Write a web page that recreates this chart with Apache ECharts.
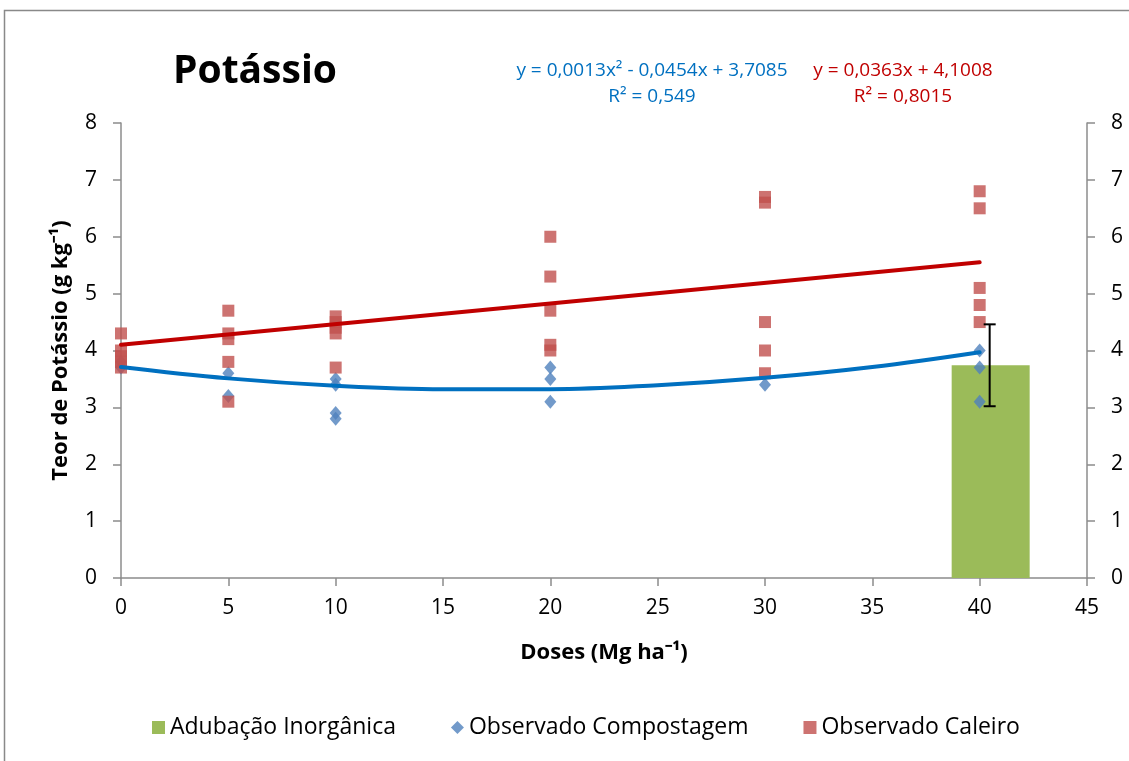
<!DOCTYPE html>
<html>
<head>
<meta charset="utf-8">
<script src="https://cdn.jsdelivr.net/npm/echarts@6/dist/echarts.min.js"></script>
<style>
  html, body { margin: 0; padding: 0; background: #fff; }
  #main { width: 1129px; height: 761px; }
</style>
</head>
<body>
<div id="main"></div>
<script>
var doses = [0, 5, 10, 20, 30, 40];
var compostagem = [
    [3.7, 3.8],
    [3.6, 3.2],
    [3.5, 3.4, 2.9, 2.8],
    [3.7, 3.5, 3.1],
    [3.4],
    [4.0, 3.7, 3.1]
];
var caleiro = [
    [4.3, 4.0, 3.9, 3.8, 3.7],
    [4.7, 4.3, 4.2, 3.8, 3.1],
    [4.6, 4.5, 4.4, 4.3, 3.7],
    [6.0, 5.3, 4.7, 4.1, 4.0],
    [6.7, 6.6, 4.5, 4.0, 3.6],
    [6.8, 6.5, 5.1, 4.8, 4.5]
];
// inorganic fertilisation bar with its error bar
var inorgDose = 40;
var inorgValue = 3.74;
var inorgErr = [3.02, 4.46];
// trend lines as drawn in the chart
var trendCompX = [0, 5, 10, 15, 20, 25, 30, 35, 40];
var trendCompY = [3.71, 3.51, 3.38, 3.32, 3.32, 3.39, 3.52, 3.71, 3.97];
var trendCalX = [0, 40];
var trendCalY = [4.10, 5.55];
var xTicks = [0, 45, 5];
var yTicks = [0, 8, 1];

function pairs(xs, groups) {
    var out = [];
    for (var i = 0; i < xs.length; i++) {
        for (var j = 0; j < groups[i].length; j++) {
            out.push([xs[i], groups[i][j]]);
        }
    }
    return out;
}
function zip(xs, ys) {
    var out = [];
    for (var i = 0; i < xs.length; i++) out.push([xs[i], ys[i]]);
    return out;
}

var FONT = 'Open Sans';
var AXIS = '#8c8c8c';
var EQ_FONT = '19px "Open Sans"';

var dom = document.getElementById('main');
var myChart = echarts.init(dom);
var option = {
    backgroundColor: '#fff',
    textStyle: { fontFamily: FONT },
    animation: false,
    title: {
        text: 'Potássio',
        left: 168,
        top: 47,
        textStyle: { fontFamily: FONT, fontSize: 39, fontWeight: 'bold', color: '#000' }
    },
    grid: { left: 121, right: 42, top: 123, bottom: 183 },
    legend: {
        top: 711,
        left: 147,
        itemGap: 55,
        itemWidth: 13,
        itemHeight: 13,
        textStyle: { fontFamily: FONT, fontSize: 23, color: '#000' },
        data: [
            { name: 'Adubação Inorgânica', icon: 'rect' },
            { name: 'Observado Compostagem', icon: 'diamond' },
            { name: 'Observado Caleiro', icon: 'rect' }
        ]
    },
    graphic: [
        { type: 'rect', silent: true, z: -10,
          shape: { x: 4.5, y: 10.5, width: 1200, height: 900 },
          style: { fill: 'none', stroke: '#898989', lineWidth: 1.5 } },
        { type: 'text', x: 652, y: 71,
          style: { text: 'y = 0,0013x² - 0,0454x + 3,7085', fill: '#0070C0', font: EQ_FONT, textAlign: 'center', textVerticalAlign: 'middle' } },
        { type: 'text', x: 652, y: 97,
          style: { text: 'R² = 0,549', fill: '#0070C0', font: EQ_FONT, textAlign: 'center', textVerticalAlign: 'middle' } },
        { type: 'text', x: 903, y: 71,
          style: { text: 'y = 0,0363x + 4,1008', fill: '#C00000', font: EQ_FONT, textAlign: 'center', textVerticalAlign: 'middle' } },
        { type: 'text', x: 903, y: 97,
          style: { text: 'R² = 0,8015', fill: '#C00000', font: EQ_FONT, textAlign: 'center', textVerticalAlign: 'middle' } }
    ],
    xAxis: {
        type: 'value',
        min: xTicks[0], max: xTicks[1], interval: xTicks[2],
        name: 'Doses (Mg ha⁻¹)',
        nameLocation: 'middle',
        nameGap: 64,
        nameTextStyle: { fontFamily: FONT, fontSize: 22, fontWeight: 'bold', color: '#000' },
        splitLine: { show: false },
        axisLine: { lineStyle: { color: AXIS, width: 1.5 } },
        axisTick: { show: true, length: 8, lineStyle: { color: AXIS, width: 1.5 } },
        axisLabel: { fontFamily: FONT, fontSize: 21, color: '#000', margin: 20 }
    },
    yAxis: [{
        type: 'value',
        position: 'left',
        min: yTicks[0], max: yTicks[1], interval: yTicks[2],
        name: 'Teor de Potássio (g kg⁻¹)',
        nameLocation: 'middle',
        nameGap: 49,
        nameTextStyle: { fontFamily: FONT, fontSize: 22, fontWeight: 'bold', color: '#000' },
        splitLine: { show: false },
        axisLine: { show: true, lineStyle: { color: AXIS, width: 1.5 } },
        axisTick: { show: true, length: 8, lineStyle: { color: AXIS, width: 1.5 } },
        axisLabel: { fontFamily: FONT, fontSize: 21, color: '#000', margin: 24 }
    }, {
        type: 'value',
        position: 'right',
        min: yTicks[0], max: yTicks[1], interval: yTicks[2],
        splitLine: { show: false },
        axisLine: { show: true, lineStyle: { color: AXIS, width: 1.5 } },
        axisTick: { show: true, length: 8, lineStyle: { color: AXIS, width: 1.5 } },
        axisLabel: { fontFamily: FONT, fontSize: 21, color: '#000', margin: 24 }
    }],
    series: [
        {
            name: 'Adubação Inorgânica',
            type: 'custom',
            itemStyle: { color: '#9BBB59' },
            z: 1,
            data: [[inorgDose, inorgValue]],
            renderItem: function (params, api) {
                var top = api.coord([api.value(0), api.value(1)]);
                var base = api.coord([api.value(0), 0]);
                return {
                    type: 'rect',
                    shape: { x: top[0] + 11 - 39, y: top[1], width: 78, height: base[1] - top[1] },
                    style: { fill: '#9BBB59' }
                };
            }
        },
        {
            name: 'Observado Compostagem',
            type: 'scatter',
            symbol: 'diamond',
            symbolSize: [12, 14],
            itemStyle: { color: '#4F81BD' },
            z: 2,
            data: pairs(doses, compostagem)
        },
        {
            name: 'Observado Caleiro',
            type: 'scatter',
            symbol: 'rect',
            symbolSize: 12,
            itemStyle: { color: '#C0504D' },
            z: 3,
            data: pairs(doses, caleiro)
        },
        {
            name: 'trend compostagem',
            type: 'line',
            smooth: 0.4,
            symbol: 'none',
            lineStyle: { color: '#0070C0', width: 4, cap: 'round' },
            z: 4,
            data: zip(trendCompX, trendCompY)
        },
        {
            name: 'trend caleiro',
            type: 'line',
            symbol: 'none',
            lineStyle: { color: '#C00000', width: 4, cap: 'round' },
            z: 4,
            data: zip(trendCalX, trendCalY)
        },
        {
            name: 'erro',
            type: 'custom',
            z: 5,
            data: [[inorgDose, inorgErr[0], inorgErr[1]]],
            renderItem: function (params, api) {
                var lo = api.coord([api.value(0), api.value(1)]);
                var hi = api.coord([api.value(0), api.value(2)]);
                var x = lo[0] + 10;
                var st = { stroke: '#000', lineWidth: 2 };
                return {
                    type: 'group',
                    children: [
                        { type: 'line', shape: { x1: x, y1: lo[1], x2: x, y2: hi[1] }, style: st },
                        { type: 'line', shape: { x1: x - 6, y1: lo[1], x2: x + 6, y2: lo[1] }, style: st },
                        { type: 'line', shape: { x1: x - 6, y1: hi[1], x2: x + 6, y2: hi[1] }, style: st }
                    ]
                };
            }
        }
    ]
};
if (option && typeof option === 'object') {
    myChart.setOption(option);
}
window.onresize = function () {
    myChart.resize();
};
</script>
</body>
</html>
